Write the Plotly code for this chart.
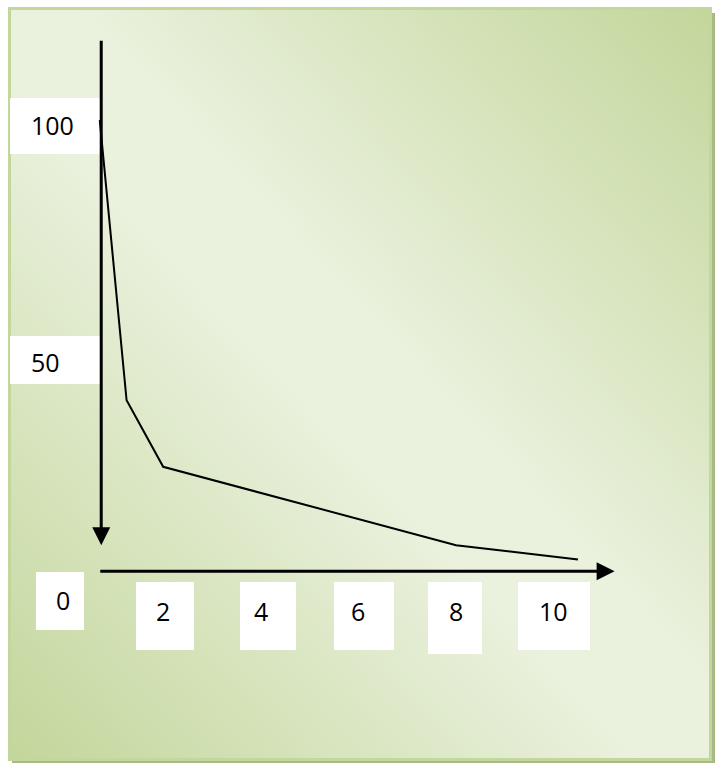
import base64
import plotly.graph_objects as go

# ---- data (in the chart's own labelled units) ----
x_values = [0.7, 1.25, 2.0, 8.0, 10.5]
y_values = [101, 42, 28, 11.5, 8.5]

x_tick_labels = [2, 4, 6, 8, 10]
y_tick_labels = [50, 100]
origin_label = 0

# ---- geometry / styling ----
W, H = 717, 763
X_RANGE = [-1.344, 13.348]
Y_RANGE = [-34.36, 126.27]
AXIS_X = 0.73      # position of the vertical axis arrow (data units)
AXIS_Y = 6.0       # position of the horizontal axis arrow (data units)
FONT = dict(family="Open Sans", size=25, color="black")


def paper_rect(x0, y0, x1, y1):
    return dict(type="rect", xref="paper", yref="paper",
                x0=x0 / W, x1=x1 / W, y0=1 - y1 / H, y1=1 - y0 / H,
                fillcolor="white", line=dict(width=0), layer="below")


svg = f'''<svg xmlns="http://www.w3.org/2000/svg" width="{W}" height="{H}" viewBox="0 0 {W} {H}">
<defs><linearGradient id="g" x1="1" y1="0" x2="0" y2="1">
<stop offset="0" stop-color="#c3d69b"/>
<stop offset="0.45" stop-color="#eaf1dd"/>
<stop offset="0.55" stop-color="#eaf1dd"/>
<stop offset="1" stop-color="#c3d69b"/>
</linearGradient></defs>
<rect x="0" y="0" width="{W}" height="{H}" fill="white"/>
<rect x="12" y="13" width="703" height="750" fill="#a8ba85"/>
<rect x="9.5" y="8.5" width="701" height="751" fill="url(#g)" stroke="#c3d69b" stroke-width="3"/>
</svg>'''
bg_src = "data:image/svg+xml;base64," + base64.b64encode(svg.encode()).decode()

fig = go.Figure()
fig.add_trace(go.Scatter(x=x_values, y=y_values, mode="lines",
                         line=dict(color="black", width=2), hoverinfo="skip"))

shapes = [
    paper_rect(10, 98, 102, 154),
    paper_rect(10, 336, 102, 384),
    paper_rect(36, 572, 84, 630),
    paper_rect(136, 582, 194, 650),
    paper_rect(240, 582, 296, 650),
    paper_rect(334, 582, 394, 650),
    paper_rect(428, 582, 482, 654),
    paper_rect(518, 582, 590, 650),
]

annotations = []
for v in y_tick_labels:
    annotations.append(dict(x=-0.74, y=v, xref="x", yref="y", text=str(v),
                            showarrow=False, xanchor="left", yanchor="middle", font=FONT))
for v in x_tick_labels:
    annotations.append(dict(x=v, y=-2.3, xref="x", yref="y", text=str(v),
                            showarrow=False, xanchor="center", yanchor="middle", font=FONT))
annotations.append(dict(x=origin_label - 0.06, y=origin_label, xref="x", yref="y",
                        text=str(origin_label), showarrow=False,
                        xanchor="center", yanchor="middle", font=FONT))

# axis arrows
annotations.append(dict(x=AXIS_X, y=11.5, ax=AXIS_X, ay=118, xref="x", yref="y",
                        axref="x", ayref="y", text="", showarrow=True,
                        arrowhead=2, arrowsize=1.2, arrowwidth=3, arrowcolor="black"))
annotations.append(dict(x=11.25, y=AXIS_Y, ax=0.68, ay=AXIS_Y, xref="x", yref="y",
                        axref="x", ayref="y", text="", showarrow=True,
                        arrowhead=2, arrowsize=1.2, arrowwidth=3, arrowcolor="black"))

fig.update_layout(
    width=W, height=H,
    margin=dict(l=0, r=0, t=0, b=0),
    paper_bgcolor="white",
    plot_bgcolor="rgba(0,0,0,0)",
    showlegend=False,
    xaxis=dict(range=X_RANGE, visible=False, fixedrange=True),
    yaxis=dict(range=Y_RANGE, visible=False, fixedrange=True),
    images=[dict(source=bg_src, xref="paper", yref="paper", x=0, y=1,
                 sizex=1, sizey=1, xanchor="left", yanchor="top",
                 sizing="stretch", layer="below")],
    shapes=shapes,
    annotations=annotations,
)

fig.write_html("out.html", config={"displayModeBar": False},
               post_script="document.body.style.margin='0';")
